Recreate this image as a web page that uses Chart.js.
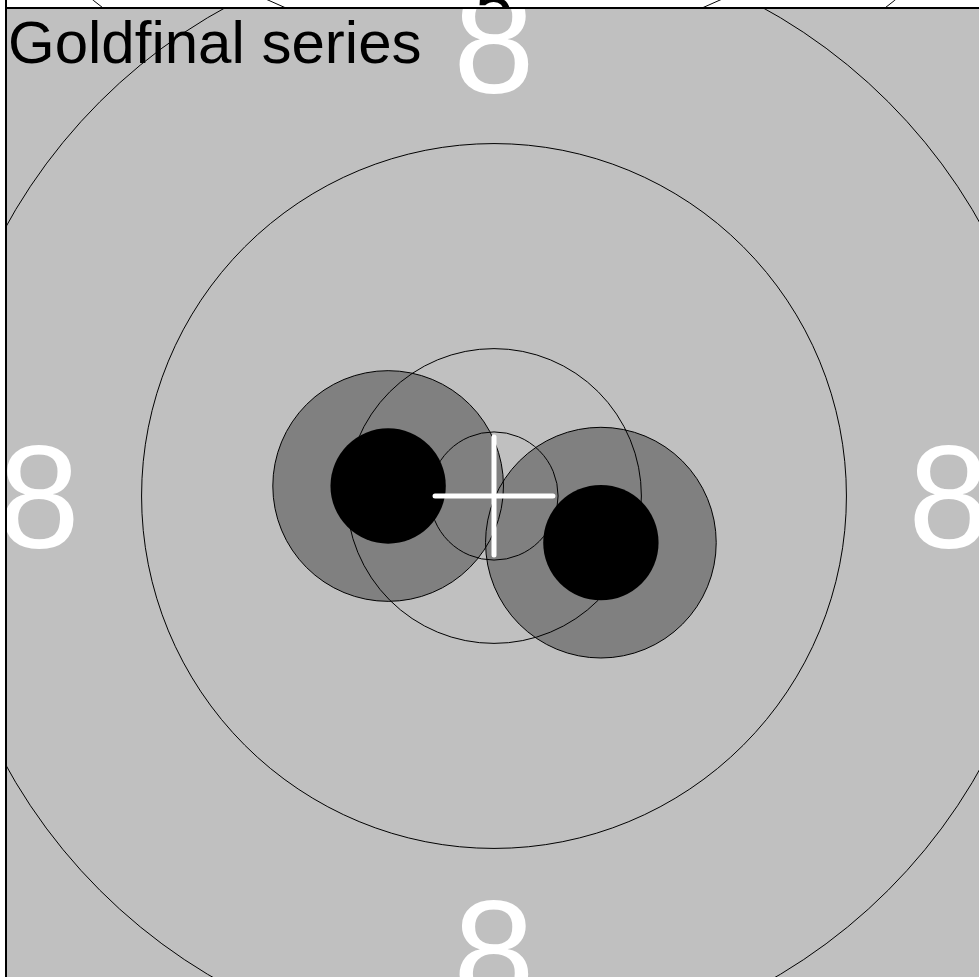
<!DOCTYPE html>
<html>
<head>
<meta charset="utf-8">
<title>Goldfinal series</title>
<script src="https://cdn.jsdelivr.net/npm/chart.js@4.4.1/dist/chart.umd.min.js"></script>
<style>
    html, body { margin: 0; padding: 0; background: #fff; overflow: hidden; }
    #frame { position: absolute; left: 5px; top: 0; bottom: 0; width: 1000px; border-left: 2px solid #000; }
    #prevPanel { position: relative; height: 7px; overflow: hidden; }
    #prevPanel canvas { position: absolute; left: 0; bottom: 0; }
    #panel { border-top: 2px solid #000; }
    canvas { display: block; }
</style>
</head>
<body>
<div id="frame">
    <div id="prevPanel"><canvas id="prevChart" width="974" height="988"></canvas></div>
    <div id="panel"><canvas id="seriesChart" width="974" height="974"></canvas></div>
</div>
<script>
//============================
//  target (10m air pistol, mm)
//============================
const ringValues = ['X', '10', '9', '8', '7', '6', '5', '4', '3', '2', '1'];
const ringRadii = [2.5, 5.75, 13.75, 21.75, 29.75, 37.75, 45.75, 53.75, 61.75, 69.75, 77.75];
const printedNumbers = ['8', '7', '6', '5', '4', '3', '2', '1'];
const aimingMarkRadius = 29.75;
const numberSize = 5.7;     // mm
const crossHalf = 2.3;      // mm

//============================
//  series
//============================
const seriesTitle = 'Goldfinal series';
const shotX = [-4.13, 4.17];
const shotY = [0.39, -1.82];
const pelletRadius = 2.25;
const haloRadius = 4.5;

// visible range of each panel (mm from centre)
const seriesRangeX = 19, seriesRangeY = 19;
const prevRangeX = 41.49, prevRangeY = 42.09;

const markColor = '#c0c0c0';
const haloColor = '#808080';

// mm -> pixels on the chart's own scale
function px(chart, mm) {
    const xs = chart.scales.x;
    return Math.abs(xs.getPixelForValue(mm) - xs.getPixelForValue(0));
}

const targetDecor = {
    id: 'targetDecor',
    afterDraw(chart, args, opts) {
        const ctx = chart.ctx;
        const cx = chart.scales.x.getPixelForValue(0);
        const cy = chart.scales.y.getPixelForValue(0);
        const mm = px(chart, 1);
        const size = numberSize * mm;

        ctx.save();
        ctx.font = size + 'px "Liberation Sans", Arial, sans-serif';
        ctx.textAlign = 'center';
        ctx.textBaseline = 'alphabetic';
        printedNumbers.forEach(label => {
            const i = ringValues.indexOf(label);
            const mid = (ringRadii[i - 1] + ringRadii[i]) / 2 * mm;
            ctx.fillStyle = ringRadii[i] <= aimingMarkRadius ? '#fff' : '#000';
            [[0, -mid], [0, mid], [-mid, 0], [mid, 0]].forEach(([dx, dy]) => {
                ctx.fillText(label, cx + dx, cy + dy + 0.358 * size);
            });
        });

        if (opts.title) {
            ctx.font = '60px "Liberation Sans", Arial, sans-serif';
            ctx.textAlign = 'left';
            ctx.fillStyle = '#000';
            ctx.fillText(opts.title, 1, 54);
        }
        ctx.restore();
    }
};

function buildTarget(canvasId, rangeX, rangeY, xs, ys, title) {
    const shots = xs.map((x, i) => ({ x: x, y: ys[i] }));
    const centre = [{ x: 0, y: 0 }];

    return new Chart(document.getElementById(canvasId), {
        type: 'scatter',
        data: {
            datasets: [
                {   // cross, vertical
                    data: [{ x: 0, y: -crossHalf }, { x: 0, y: crossHalf }],
                    showLine: true, borderColor: '#fff', borderWidth: 5,
                    borderCapStyle: 'round', pointRadius: 0
                },
                {   // cross, horizontal
                    data: [{ x: -crossHalf, y: 0 }, { x: crossHalf, y: 0 }],
                    showLine: true, borderColor: '#fff', borderWidth: 5,
                    borderCapStyle: 'round', pointRadius: 0
                },
                {   // pellet holes
                    data: shots,
                    pointRadius: c => px(c.chart, pelletRadius),
                    backgroundColor: '#000', borderWidth: 0
                },
                {   // ring lines
                    data: ringRadii.map(() => ({ x: 0, y: 0 })),
                    pointRadius: c => px(c.chart, ringRadii[c.dataIndex]),
                    backgroundColor: 'rgba(0,0,0,0)', borderColor: '#000', borderWidth: 1
                },
                {   // halo outlines
                    data: shots,
                    pointRadius: c => px(c.chart, haloRadius),
                    backgroundColor: 'rgba(0,0,0,0)', borderColor: '#000', borderWidth: 1
                },
                {   // halo fill
                    data: shots,
                    pointRadius: c => px(c.chart, haloRadius),
                    backgroundColor: haloColor, borderWidth: 0
                },
                {   // aiming mark
                    data: centre,
                    pointRadius: c => px(c.chart, aimingMarkRadius),
                    backgroundColor: markColor, borderWidth: 0
                }
            ]
        },
        options: {
            responsive: false,
            animation: false,
            devicePixelRatio: 1,
            events: [],
            layout: { padding: 0 },
            scales: {
                x: { type: 'linear', min: -rangeX, max: rangeX, display: false },
                y: { type: 'linear', min: -rangeY, max: rangeY, display: false }
            },
            plugins: {
                legend: { display: false },
                tooltip: { enabled: false },
                targetDecor: { title: title }
            }
        },
        plugins: [targetDecor]
    });
}

// panel above (only its lower edge is in view)
buildTarget('prevChart', prevRangeX, prevRangeY, [], [], '');
buildTarget('seriesChart', seriesRangeX, seriesRangeY, shotX, shotY, seriesTitle);
</script>
</body>
</html>
